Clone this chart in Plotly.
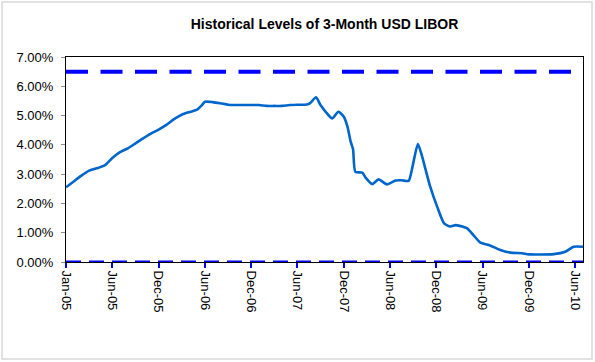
import plotly.graph_objects as go

# ---- data (period index on category axis, LIBOR in %) ----
period = [0, 1, 2, 3, 4, 5, 6, 7, 8, 9, 10, 11, 12, 13, 14, 15, 16, 17, 17.6, 18, 19, 20,
          21, 22, 23, 24, 25, 26, 27, 28, 29, 30, 31, 31.6, 32.4, 33, 34, 34.5, 35.3, 36,
          36.5, 36.9, 37.2, 37.5, 38.4, 38.8, 39.7, 40.5, 41.6, 42.7, 43.5, 44.4, 44.9,
          45.6, 46.1, 47.2, 48.1, 49.0, 49.8, 50.5, 51.5, 52.0, 52.8, 53.7, 54.8, 56.1,
          57.6, 59.1, 60.0, 63.2, 64.7, 65.8, 67]
libor = [2.55, 2.75, 2.95, 3.12, 3.20, 3.30, 3.55, 3.75, 3.88, 4.05, 4.22, 4.38, 4.52,
         4.68, 4.88, 5.03, 5.12, 5.20, 5.35, 5.47, 5.46, 5.42,
         5.37, 5.36, 5.36, 5.36, 5.36, 5.33, 5.33, 5.33, 5.36, 5.37, 5.37, 5.42, 5.62,
         5.35, 5.02, 4.90, 5.13, 4.96,
         4.60, 4.10, 3.85, 3.08, 3.05, 2.89, 2.66, 2.82, 2.65, 2.78, 2.79, 2.77, 3.25,
         4.03, 3.65, 2.57, 1.89, 1.32, 1.21, 1.26, 1.20, 1.15, 0.92, 0.66, 0.58, 0.43,
         0.32, 0.30, 0.26, 0.27, 0.35, 0.52, 0.52]

cap_level = [6.5, 6.5]
floor_level = [0.0, 0.0]
level_span = [0, 67]

tick_pos = [0, 6, 12, 18, 24, 30, 36, 42, 48, 54, 60, 66]
tick_labels = ["Jan-05", "Jun-05", "Dec-05", "Jun-06", "Dec-06", "Jun-07",
               "Dec-07", "Jun-08", "Dec-08", "Jun-09", "Dec-09", "Jun-10"]

FONT = "Liberation Sans, Arial, sans-serif"

fig = go.Figure()
fig.add_trace(go.Scatter(x=level_span, y=cap_level, mode="lines",
                         line=dict(color="#0000FF", width=4, dash="22px,12.5px"),
                         hoverinfo="skip", cliponaxis=False))
fig.add_trace(go.Scatter(x=level_span, y=floor_level, mode="lines",
                         line=dict(color="#0000FF", width=3.2, dash="15px,8px"),
                         hoverinfo="skip", cliponaxis=False))
fig.add_trace(go.Scatter(x=period, y=libor, mode="lines",
                         line=dict(color="#0066CC", width=2.6, shape="spline", smoothing=0.6),
                         cliponaxis=False))

fig.update_layout(
    width=595, height=362,
    margin=dict(l=66, r=12, t=57, b=100),
    paper_bgcolor="white", plot_bgcolor="white",
    showlegend=False,
    font=dict(family=FONT, size=13, color="black"),
    title=dict(text="<b>Historical Levels of 3-Month USD LIBOR</b>",
               x=0.5, xref="paper", xanchor="center",
               y=1 - 24 / 362, yanchor="middle",
               font=dict(family=FONT, size=14, color="black")),
    xaxis=dict(range=[0, 67], tickmode="array", tickvals=tick_pos, ticktext=tick_labels,
               tickangle=90, ticks="outside", ticklen=5, tickwidth=2, tickcolor="#0000FF",
               showgrid=False, zeroline=False, showline=True, linecolor="black",
               linewidth=1, mirror=True, tickfont=dict(size=13)),
    yaxis=dict(range=[0, 7], dtick=1, tickformat=".2f", ticksuffix="%",
               ticks="outside", ticklen=4, tickcolor="#888888", ticklabelstandoff=5,
               showgrid=False, zeroline=False, showline=True, linecolor="black",
               linewidth=1, mirror=True, tickfont=dict(size=13)),
    shapes=[dict(type="rect", xref="paper", yref="paper",
                 x0=(2 - 66) / 517, x1=(592 - 66) / 517,
                 y0=(262 - 359) / 205, y1=(262 - 2) / 205,
                 line=dict(color="#D9D9D9", width=1.5), layer="below")],
)

fig.write_html("out.html", config={"displayModeBar": False},
               post_script="document.body.style.margin='0';document.body.style.overflow='hidden';")
